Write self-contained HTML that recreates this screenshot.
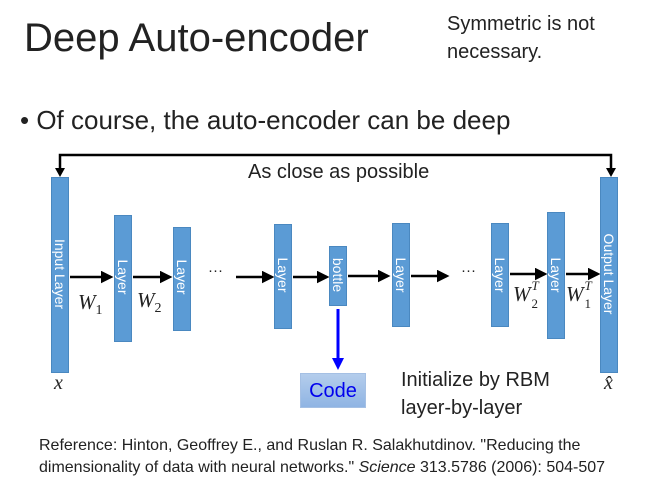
<!DOCTYPE html>
<html><head><style>
body{margin:0;width:650px;height:486px;background:#fff;position:relative;overflow:hidden;font-family:"Liberation Sans",sans-serif;color:#222}
.t{position:absolute;white-space:nowrap}
.b{position:absolute;background:#5b9bd5;border:1px solid #4a88c0;box-sizing:border-box}
.v{position:absolute;color:#fff;font-size:14px;transform:rotate(90deg);transform-origin:center;white-space:nowrap;text-align:center}
.m{font-family:"Liberation Serif",serif;font-style:italic}
</style></head><body>
<div class="t" style="left:24px;top:16px;font-size:40px">Deep Auto-encoder</div>
<div class="t" style="left:447px;top:10px;font-size:20px;line-height:28px">Symmetric is not<br>necessary.</div>
<div class="t" style="left:20px;top:105px;font-size:26px">• Of course, the auto-encoder can be deep</div>
<div class="t" style="left:248px;top:161px;font-size:20px">As close as possible</div>

<svg style="position:absolute;left:0;top:0" width="650" height="486">
<defs><marker id="a" markerWidth="5" markerHeight="5" refX="4" refY="2.5" orient="auto" markerUnits="strokeWidth"><path d="M0,0L5,2.5L0,5z" fill="#000"/></marker>
<marker id="c" markerWidth="4" markerHeight="4" refX="3" refY="2" orient="auto" markerUnits="strokeWidth"><path d="M0,0L4,2L0,4z" fill="#00f"/></marker></defs>
<g stroke="#000" stroke-width="2.5" fill="none">
<polyline points="60,173 60,155 611,155 611,173"/>
</g>
<path d="M55,168L65,168L60,177z M606,168L616,168L611,177z" fill="#000"/>
<g stroke="#000" stroke-width="2.5" marker-end="url(#a)">
<line x1="70" y1="277" x2="111" y2="277"/>
<line x1="133" y1="277" x2="170" y2="277"/>
<line x1="236" y1="277" x2="272" y2="277"/>
<line x1="293" y1="277" x2="327" y2="277"/>
<line x1="348" y1="276" x2="388" y2="276"/>
<line x1="411" y1="276" x2="447" y2="276"/>
<line x1="510" y1="274" x2="545" y2="274"/>
<line x1="566" y1="274" x2="598" y2="274"/>
</g>
<line x1="338" y1="309" x2="338" y2="367" stroke="#00f" stroke-width="3" marker-end="url(#c)"/>
</svg>

<div class="b" style="left:51px;top:177px;width:18px;height:196px"></div>
<div class="b" style="left:114px;top:215px;width:18px;height:127px"></div>
<div class="b" style="left:173px;top:227px;width:18px;height:104px"></div>
<div class="b" style="left:274px;top:224px;width:18px;height:105px"></div>
<div class="b" style="left:329px;top:246px;width:18px;height:60px"></div>
<div class="b" style="left:392px;top:223px;width:18px;height:104px"></div>
<div class="b" style="left:491px;top:223px;width:18px;height:104px"></div>
<div class="b" style="left:547px;top:212px;width:18px;height:127px"></div>
<div class="b" style="left:600px;top:177px;width:18px;height:196px"></div>

<div class="v" style="left:10px;top:266px;width:100px">Input Layer</div>
<div class="v" style="left:93px;top:269px;width:60px">Layer</div>
<div class="v" style="left:152px;top:269px;width:60px">Layer</div>
<div class="v" style="left:253px;top:267px;width:60px">Layer</div>
<div class="v" style="left:308px;top:267px;width:60px">bottle</div>
<div class="v" style="left:371px;top:267px;width:60px">Layer</div>
<div class="v" style="left:470px;top:267px;width:60px">Layer</div>
<div class="v" style="left:526px;top:267px;width:60px">Layer</div>
<div class="v" style="left:559px;top:266px;width:100px">Output Layer</div>

<div class="t" style="left:208px;top:262px;font-size:15px">···</div>
<div class="t" style="left:461px;top:262px;font-size:15px">···</div>
<div class="t m" style="left:78px;top:290px;font-size:21px">W<sub style="font-size:14px;font-style:normal">1</sub></div>
<div class="t m" style="left:137px;top:288px;font-size:21px">W<sub style="font-size:14px;font-style:normal">2</sub></div>
<div class="t m" style="left:513px;top:282px;font-size:21px">W<span style="position:relative;"><sup style="font-size:13px;position:absolute;left:1px;top:-4px">T</sup><sub style="font-size:13px;font-style:normal;position:absolute;left:1px;top:14px">2</sub></span></div>
<div class="t m" style="left:566px;top:282px;font-size:21px">W<span style="position:relative;"><sup style="font-size:13px;position:absolute;left:1px;top:-4px">T</sup><sub style="font-size:13px;font-style:normal;position:absolute;left:1px;top:14px">1</sub></span></div>
<div class="t m" style="left:54px;top:372px;font-size:20px">x</div>
<div class="t m" style="left:604px;top:372px;font-size:20px">x̂</div>

<div style="position:absolute;left:300px;top:373px;width:66px;height:35px;background:linear-gradient(#b4cdec,#8fb4e3);border:1px solid #a5c0e4;box-sizing:border-box;color:#00e;font-size:20px;text-align:center;line-height:34px">Code</div>
<div class="t" style="left:401px;top:366px;font-size:20px;line-height:28px">Initialize by RBM<br>layer-by-layer</div>
<div class="t" style="left:39px;top:435px;font-size:16px;line-height:22px">Reference: Hinton, Geoffrey E., and Ruslan R. Salakhutdinov. "Reducing the<br>dimensionality of data with neural networks." <i>Science</i> 313.5786 (2006): 504-507</div>
</body></html>
